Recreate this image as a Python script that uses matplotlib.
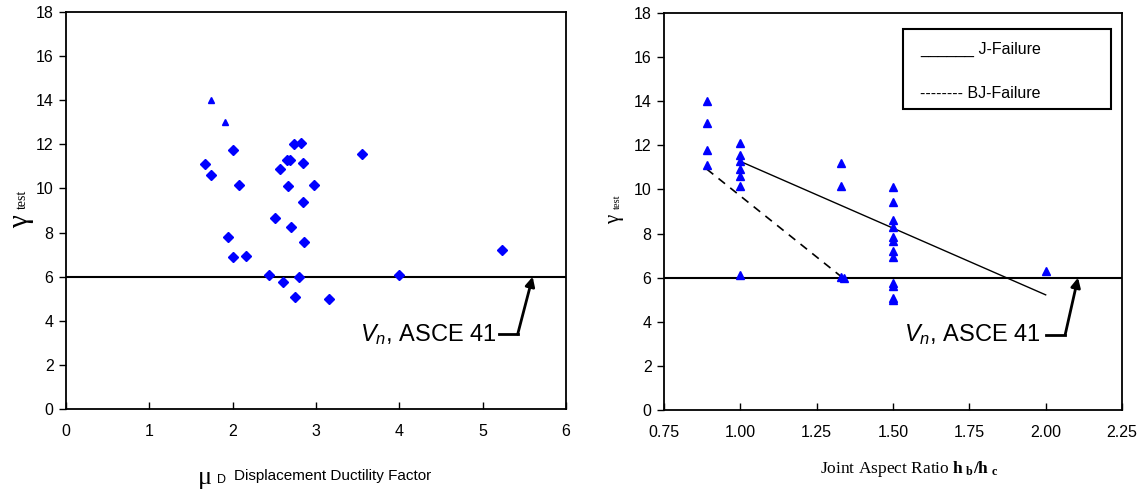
import numpy as np
import matplotlib.pyplot as plt
from matplotlib.patches import Rectangle

plt.rcParams['font.family'] = ['Liberation Sans', 'DejaVu Sans']
plt.rcParams['mathtext.fontset'] = 'custom'
plt.rcParams['mathtext.rm'] = 'Liberation Sans'
plt.rcParams['mathtext.it'] = 'Liberation Sans:italic'
plt.rcParams['mathtext.bf'] = 'Liberation Serif:bold'

# left panel: gamma_test vs displacement ductility
duct_tri = [1.74, 1.91]
gam_tri = [14.0, 13.0]
duct_dia = [2.00, 1.67, 1.74, 2.08, 1.94, 2.00, 2.16, 2.43, 2.60, 2.75, 2.79,
            3.15, 4.00, 5.23, 3.55, 2.74, 2.82, 2.65, 2.69, 2.84, 2.57, 2.66,
            2.98, 2.84, 2.51, 2.70, 2.86]
gam_dia = [11.76, 11.11, 10.63, 10.15, 7.79, 6.87, 6.93, 6.07, 5.78, 5.09, 5.99,
           4.98, 6.07, 7.20, 11.55, 12.02, 12.08, 11.28, 11.28, 11.17, 10.90, 10.09,
           10.15, 9.40, 8.64, 8.27, 7.58]

# right panel: gamma_test vs joint aspect ratio
ratio = [0.89, 0.89, 0.89, 0.89,
         1.0, 1.0, 1.0, 1.0, 1.0, 1.0, 1.0,
         1.33, 1.33, 1.33, 1.34,
         1.5, 1.5, 1.5, 1.5, 1.5, 1.5, 1.5, 1.5, 1.5, 1.5, 1.5, 1.5,
         2.0]
gam_r = [13.99, 13.01, 11.8, 11.13,
         12.1, 11.57, 11.27, 10.92, 10.62, 10.17, 6.13,
         11.2, 10.17, 6.05, 6.0,
         10.1, 9.41, 8.62, 8.28, 7.84, 7.64, 7.23, 6.93, 5.78, 5.6, 5.1, 5.0,
         6.28]

j_fail_x = [1.0, 2.0]
j_fail_y = [11.27, 5.22]
bj_fail_x = [0.89, 1.33]
bj_fail_y = [10.92, 6.05]

asce_limit = 6.0
label_vn = r'$V_n$, ASCE 41'

# callout geometry (data units)
left_call_x = [5.20, 5.42]
left_call_tip = (5.6, 6.0)
left_call_y = 3.39
right_call_x = [2.0, 2.064]
right_call_tip = (2.106, 6.0)
right_call_y = 3.42

blue = '#0000ff'

fig = plt.figure(figsize=(11.4, 4.9), dpi=100)
ax1 = fig.add_axes([0.0579, 0.1653, 0.4386, 0.8102])
ax2 = fig.add_axes([0.5825, 0.1633, 0.4017, 0.8102])

for ax in (ax1, ax2):
    ax.set_ylim(0, 18)
    ax.set_yticks(np.arange(0, 19, 2))
    ax.tick_params(axis='x', direction='in', length=5, labelsize=11.5, pad=11, width=1)
    ax.tick_params(axis='y', direction='out', length=5, labelsize=11.5, pad=4, width=1)
    for s in ax.spines.values():
        s.set_linewidth(1.3)
    ax.axhline(asce_limit, color='k', lw=1.5, zorder=2)

# left
ax1.set_xlim(0, 6)
ax1.set_xticks(range(0, 7))
ax1.plot(duct_tri, gam_tri, '^', color=blue, ms=4, ls='none', zorder=3)
ax1.plot(duct_dia, gam_dia, 'D', color=blue, ms=5, ls='none', zorder=3)
ax1.text(left_call_x[0] - 0.03, left_call_y, label_vn, fontsize=17, ha='right', va='center')
ax1.plot(left_call_x, [left_call_y, left_call_y], color='k', lw=2)
ax1.annotate('', xy=left_call_tip, xytext=(left_call_x[1], left_call_y),
             arrowprops=dict(arrowstyle='-|>', color='k', lw=2, mutation_scale=14,
                             shrinkA=0, shrinkB=0))

# right
ax2.set_xlim(0.75, 2.25)
ax2.set_xticks(np.arange(0.75, 2.26, 0.25))
ax2.set_xticklabels(['%.2f' % v for v in np.arange(0.75, 2.26, 0.25)])
ax2.plot(ratio, gam_r, '^', color=blue, ms=6, ls='none', zorder=3)
ax2.plot(j_fail_x, j_fail_y, color='k', lw=1)
ax2.plot(bj_fail_x, bj_fail_y, color='k', lw=1.2, ls=(0, (5, 4)))
ax2.text(right_call_x[0] - 0.015, right_call_y, label_vn, fontsize=17, ha='right', va='center')
ax2.plot(right_call_x, [right_call_y, right_call_y], color='k', lw=2)
ax2.annotate('', xy=right_call_tip, xytext=(right_call_x[1], right_call_y),
             arrowprops=dict(arrowstyle='-|>', color='k', lw=2, mutation_scale=14,
                             shrinkA=0, shrinkB=0))

# legend box drawn like the original (text with underscores / hyphens)
ax2.add_patch(Rectangle((0.522, 0.758), 0.454, 0.202, transform=ax2.transAxes,
                        fill=False, edgecolor='k', lw=1.5, zorder=4))
ax2.text(0.559, 0.907, '______ J-Failure', transform=ax2.transAxes, fontsize=11.5, va='center')
ax2.text(0.559, 0.798, '-------- BJ-Failure', transform=ax2.transAxes, fontsize=11.5, va='center')

# axis labels
serif = ['Liberation Serif', 'DejaVu Serif']
fig.text(0.0185, 0.547, 'γ', family=serif, fontsize=21, rotation=90, ha='center', va='center')
fig.text(0.0195, 0.594, 'test', family=serif, fontsize=10, rotation=90, ha='center', va='center')
fig.text(0.539, 0.553, 'γ', family=serif, fontsize=15, rotation=90, ha='center', va='center')
fig.text(0.5415, 0.588, 'test', family=serif, fontsize=7.5, rotation=90, ha='center', va='center')

fig.text(0.180, 0.024, 'μ', family=serif, fontsize=19, ha='center', va='center')
fig.text(0.194, 0.020, 'D', fontsize=9, ha='center', va='center')
fig.text(0.205, 0.028, 'Displacement Ductility Factor', fontsize=11, ha='left', va='center')

fig.text(0.719, 0.042, r'Joint Aspect Ratio $\mathbf{h}_{\mathbf{\ b}}\mathbf{/h}_{\mathbf{\ c}}$',
         family=serif, fontsize=12.5, ha='left', va='center')

fig.savefig('out.png', dpi=100)
